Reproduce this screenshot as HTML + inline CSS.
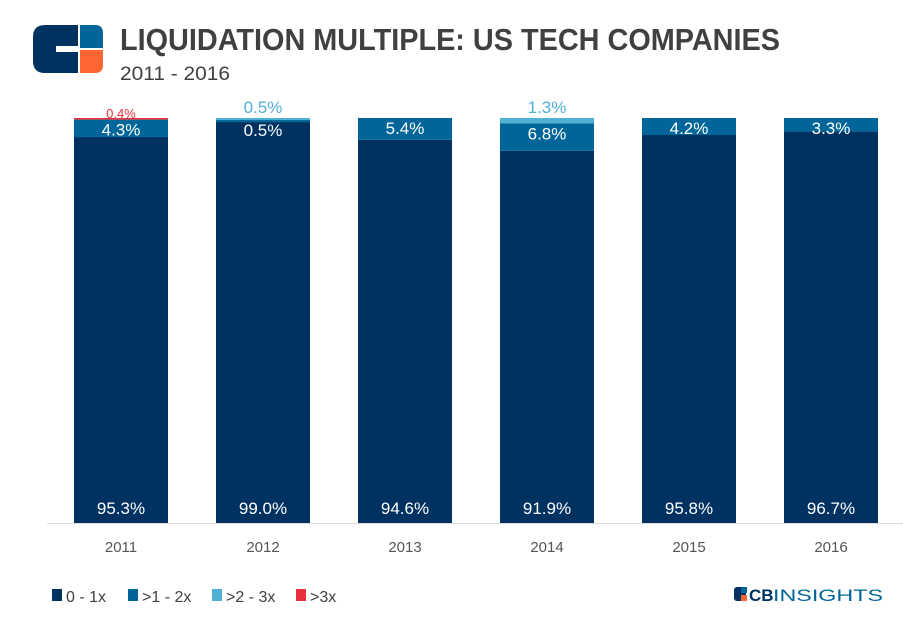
<!DOCTYPE html>
<html><head><meta charset="utf-8"><style>
body{margin:0;background:#fff;width:903px;height:619px;overflow:hidden;font-family:"Liberation Sans",sans-serif}
</style></head><body>
<svg width="903" height="619" xmlns="http://www.w3.org/2000/svg">
<g>
<path d="M45,25 H78 V46 H56 V52 H78 V73 H45 Q33,73 33,61 V37 Q33,25 45,25Z" fill="#003261"/>
<path d="M80,25 H95 Q103,25 103,33 V48 H80Z" fill="#00669a"/>
<path d="M80,50 H103 V65 Q103,73 95,73 H80Z" fill="#ff6633"/>
</g>
<text x="120" y="50" font-size="31" font-weight="bold" fill="#404040" textLength="660" lengthAdjust="spacingAndGlyphs">LIQUIDATION MULTIPLE: US TECH COMPANIES</text>
<text x="120" y="80" font-size="19" fill="#404040" textLength="110" lengthAdjust="spacingAndGlyphs">2011 - 2016</text>
<line x1="47" y1="523.5" x2="903" y2="523.5" stroke="#ddd"/>
<g id="bars"></g>
<g font-size="16" fill="#404040">
<rect x="52" y="589" width="10" height="12" fill="#003261"/><text x="66" y="602">0 - 1x</text>
<rect x="128" y="589" width="10" height="12" fill="#00669a"/><text x="142" y="602">&gt;1 - 2x</text>
<rect x="212" y="589" width="10" height="12" fill="#4fb0d6"/><text x="226" y="602">&gt;2 - 3x</text>
<rect x="296" y="589" width="10" height="12" fill="#e8313d"/><text x="310" y="602">&gt;3x</text>
</g>
<g>
<rect x="734" y="587" width="12" height="14" rx="3" fill="#003261"/>
<rect x="741" y="587" width="6" height="6" fill="#00669a"/>
<rect x="741" y="595" width="6" height="6" fill="#ff6633"/>
<text x="749" y="601" font-size="17" font-weight="bold" fill="#003261">CB</text>
<text x="773" y="601" font-size="17" fill="#00669a" textLength="110" lengthAdjust="spacingAndGlyphs">INSIGHTS</text>
</g>
</svg>
<script>
const years=["2011","2012","2013","2014","2015","2016"];
const s01=[95.3,99.0,94.6,91.9,95.8,96.7];
const s12=[4.3,0.5,5.4,6.8,4.2,3.3];
const s23=[0,0.5,0,1.3,0,0];
const s3=[0.4,0,0,0,0,0];
const colors=["#003261","#00669a","#4fb0d6","#e8313d"];
const series=[s01,s12,s23,s3];
const base=523,plotH=405,x0=74,step=142,bw=94;
const y=v=>base-v/100*plotH;
const xb=i=>x0+i*step;
const ns="http://www.w3.org/2000/svg";
const g=document.getElementById('bars');
function mk(t,a){const e=document.createElementNS(ns,t);for(const k in a)e.setAttribute(k,a[k]);g.appendChild(e);return e;}
years.forEach((yr,i)=>{
  let cum=0;
  series.forEach((s,k)=>{
    const v=s[i];if(!v)return;
    const r=mk('rect',{x:xb(i),y:y(cum+v),width:bw,height:v/100*plotH,fill:colors[k]});
    
    
    cum+=v;
  });
  const cx=xb(i)+bw/2;
  const t0=mk('text',{x:cx,y:514,'text-anchor':'middle','font-size':17,fill:'#fff'});t0.textContent=s01[i].toFixed(1)+'%';
  
  
  const t1=mk('text',{x:cx,y:y(s01[i])-3+ (s12[i]<2?0:0),'text-anchor':'middle','font-size':17,fill:'#fff'});
  t1.setAttribute('y',y(s01[i]+s12[i])+16);
  t1.textContent=s12[i].toFixed(1)+'%';
  
  
  if(s23[i]){const t=mk('text',{x:cx,y:113,'text-anchor':'middle','font-size':17,fill:'#4fb0d6'});t.textContent=s23[i].toFixed(1)+'%';
    
    }
  if(s3[i]){const t=mk('text',{x:cx,y:118,'text-anchor':'middle','font-size':13,fill:'#e8313d'});t.textContent=s3[i].toFixed(1)+'%';
    
    }
  const xl=mk('text',{x:cx,y:552,'text-anchor':'middle','font-size':15,fill:'#555'});xl.textContent=yr;
  
  
});
</script>
</body></html>
